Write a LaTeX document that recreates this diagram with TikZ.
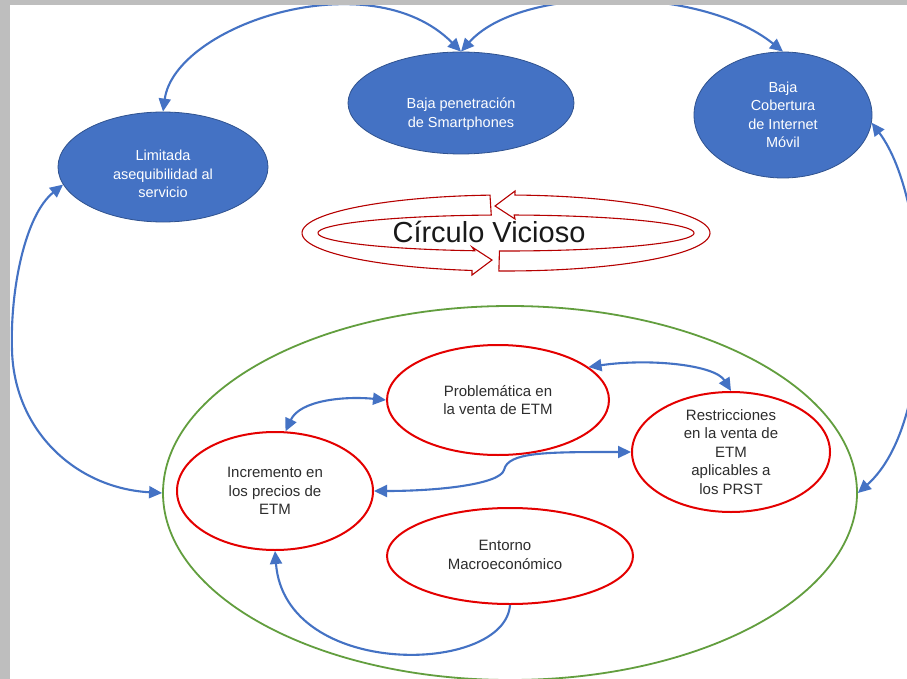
\documentclass[tikz,border=0pt]{standalone}
\usepackage{fontspec}
\setmainfont{Liberation Sans}
\usetikzlibrary{arrows.meta,shapes.geometric}
\definecolor{blueA}{HTML}{4472C4}
\definecolor{blueB}{HTML}{2F528F}
\definecolor{lineblue}{HTML}{4472C4}
\definecolor{redE}{RGB}{228,0,0}
\definecolor{greenE}{RGB}{98,158,62}
\definecolor{framegray}{RGB}{190,190,190}
\definecolor{txt}{RGB}{45,45,45}
\begin{document}
\begin{tikzpicture}[x=1pt,y=-1pt,
 blueell/.style={ellipse, fill=blueA, draw=blueB, line width=0.8pt, inner sep=0pt},
 redell/.style={ellipse, fill=white, draw=redE, line width=2pt, inner sep=0pt},
 bluetxt/.style={align=center, inner sep=0pt, text=white, font=\fontsize{14.5}{18.5}\selectfont},
 redtxt/.style={align=center, inner sep=0pt, text=txt, font=\fontsize{15}{18.5}\selectfont},
 link/.style={draw=lineblue, line width=2.1pt, >={Triangle[length=13pt,width=12pt]}},
 ringarrow/.style={draw=redE!80!black, fill=white, line width=1.1pt, line join=miter}
]
\useasboundingbox (0,0) rectangle (907,679);
\fill[white] (0,0) rectangle (907,679);
\begin{scope}
\clip (0,0) rectangle (907,679);

% outer green ellipse
\node[ellipse, draw=greenE, line width=1.8pt, minimum width=694pt, minimum height=374pt, inner sep=0pt] (green) at (510,493) {};

% top blue ellipses
\node[blueell, minimum width=210pt, minimum height=110pt] (lim) at (163,167) {};
\node[bluetxt] (limT) at (163,174) {Limitada\\asequibilidad al\\servicio};
\node[blueell, minimum width=226pt, minimum height=102pt] (pen) at (461,103) {};
\node[bluetxt] (penT) at (461,114) {Baja penetración\\de Smartphones};
\node[blueell, minimum width=178pt, minimum height=126pt] (cob) at (783,115) {};
\node[bluetxt] (cobT) at (cob.center) {Baja\\Cobertura\\de Internet\\Móvil};

% red ellipses
\node[redell, minimum width=222pt, minimum height=110pt] (prob) at (498,400) {};
\node[redtxt] (probT) at (prob.center) {Problemática en\\la venta de ETM};
\node[redell, minimum width=198pt, minimum height=120pt] (rest) at (731,452) {};
\node[redtxt] (restT) at (rest.center) {Restricciones\\en la venta de\\ETM\\aplicables a\\los PRST};
\node[redell, minimum width=196pt, minimum height=118pt] (inc) at (275,491) {};
\node[redtxt] (incT) at (inc.center) {Incremento en\\los precios de\\ETM};
\node[redell, minimum width=246pt, minimum height=96pt] (ent) at (510,556) {};
\node[redtxt] (entT) at (505,555) {Entorno\\Macroeconómico};

% vicious circle ring
\draw[ringarrow] plot[domain=92:-87.5, samples=60] ({506+204*cos(\x)},{233+38*sin(\x)})
  -- (515,191) -- (495,206) -- (515,219)
  -- plot[domain=-87.5:92, samples=60] ({506+188*cos(\x)},{233+18*sin(\x)}) -- cycle;
\draw[ringarrow] plot[domain=265.5:99.6, samples=60] ({506+204*cos(\x)},{233+38*sin(\x)})
  -- (472,275) -- (492,260) -- (472,247)
  -- plot[domain=99.6:265.5, samples=60] ({506+188*cos(\x)},{233+18*sin(\x)}) -- cycle;
\node[inner sep=0pt, text=black!90, font=\fontsize{29}{30}\selectfont] (ring) at (489,232) {Círculo Vicioso};

% connectors
\draw[link,<->] (lim.north) .. controls (175,25) and (370,-40) .. (pen.north);
\draw[link,<->] (pen.north) .. controls (520,-15) and (700,-15) .. (cob.north);
\draw[link,<->] (lim.190) .. controls (25,215) and (10,290) .. (12,350)
  .. controls (14,430) and (75,488) .. (green.west);
\draw[link,<->] (cob.-5) .. controls (930,200) and (940,420) .. (green.east);
\draw[link,<->] (inc.80) .. controls (300,400) and (345,396) .. (prob.west);
\draw[link,<->] (prob.20) .. controls (650,358) and (715,365) .. (rest.north);
\draw[link,<->] (rest.west) .. controls (545,452) and (508,452) .. (504,470)
  .. controls (500,484) and (440,491) .. (inc.east);
\draw[link,->] (ent.south) .. controls (505,675) and (285,680) .. (inc.south);

% page frame
\fill[framegray] (0,0) rectangle (10,679);
\fill[framegray] (0,0) rectangle (907,5);
\end{scope}
\end{tikzpicture}
\end{document}
